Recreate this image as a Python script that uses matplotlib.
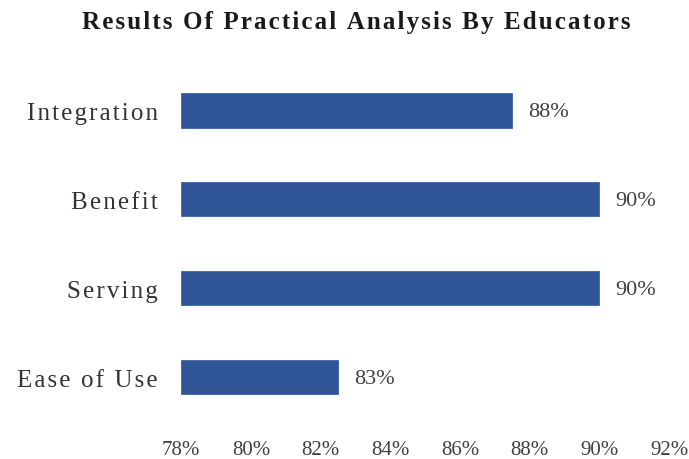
import matplotlib
matplotlib.use("Agg")
import matplotlib.pyplot as plt
import numpy as np

title = "Results Of Practical Analysis By Educators"
categories = ["Integration", "Benefit", "Serving", "Ease of Use"]
values = [87.5, 90.0, 90.0, 82.5]
xticks = [78, 80, 82, 84, 86, 88, 90, 92]
bar_color = "#2F5597"

plt.rcParams['font.family'] = ['Liberation Serif', 'DejaVu Serif']

def spaced(s, sp="\u200a"):
    return sp.join(list(s))

fig = plt.figure(figsize=(6.89, 4.6), dpi=100)
ax = fig.add_axes([0.263, 0.0815, 0.708, 0.7735])

y = np.arange(len(categories))
ax.barh(y, [v - 78 for v in values], left=78, height=0.39, color=bar_color,
        edgecolor="#3A62A8", linewidth=0.6)
ax.set_xlim(78, 92)
ax.set_ylim(len(categories) - 0.5, -0.5)
ax.set_yticks(y)
ax.set_yticklabels([spaced(c, "\u200a") for c in categories], fontsize=18, color="#333333")
ax.set_xticks(xticks)
ax.set_xticklabels([f"{t}%" for t in xticks], fontsize=15, color="#404040")
ax.tick_params(axis='both', length=0)
ax.tick_params(axis='y', pad=17)
ax.tick_params(axis='x', pad=13)
for s in ax.spines.values():
    s.set_visible(False)

for yi, v in zip(y, values):
    ax.text(v + 0.45, yi + 0.02, f"{int(v + 0.5)}%", va='center', ha='left',
            fontsize=16, color="#404040")

fig.text(0.517, 0.95, spaced(title, "\u200a"), ha='center', va='center',
         fontsize=18, fontweight='bold', color="#1a1a1a")

fig.savefig("out.png", dpi=100, facecolor="white")
